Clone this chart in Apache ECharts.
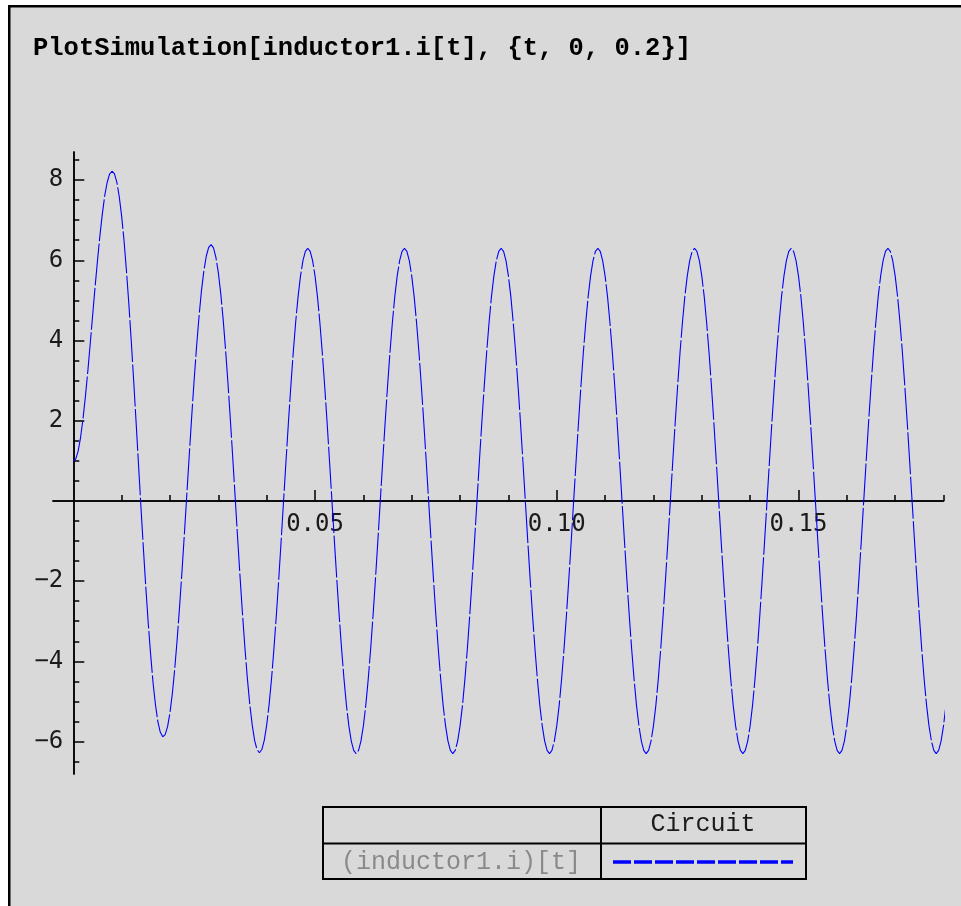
<!DOCTYPE html>
<html>
<head>
<meta charset="utf-8">
<title>PlotSimulation inductor1.i</title>
<script src="https://cdn.jsdelivr.net/npm/echarts@6/dist/echarts.min.js"></script>
<style>
  html, body { margin: 0; padding: 0; background: #ffffff; }
  #chart { width: 961px; height: 906px; }
</style>
</head>
<body>
<div id="chart"></div>
<script>
// Inductor current i(t) sampled every 0.5 ms from t = 0
const T_STEP = 0.0005;
const current = [
  1.00, 1.04, 1.24, 1.58, 2.04, 2.60, 3.23, 3.92, 4.63, 5.33,
  5.99, 6.61, 7.15, 7.61, 7.94, 8.15, 8.22, 8.16, 7.95, 7.59,
  7.10, 6.48, 5.73, 4.89, 3.96, 2.97, 1.94, 0.88, -0.17, -1.19,
  -2.16, -3.05, -3.84, -4.54, -5.09, -5.51, -5.77, -5.88, -5.83, -5.63,
  -5.28, -4.79, -4.16, -3.43, -2.61, -1.72, -0.78, 0.20, 1.17, 2.12,
  3.02, 3.85, 4.59, 5.23, 5.73, 6.10, 6.32, 6.39, 6.31, 6.07,
  5.69, 5.17, 4.52, 3.76, 2.92, 2.00, 1.04, 0.05, -0.95, -1.91,
  -2.82, -3.67, -4.42, -5.07, -5.58, -5.97, -6.20, -6.28, -6.20, -5.97,
  -5.59, -5.08, -4.44, -3.69, -2.85, -1.94, -0.98, 0.01, 1.00, 1.96,
  2.87, 3.71, 4.46, 5.10, 5.61, 5.99, 6.22, 6.30, 6.22, 5.99,
  5.61, 5.10, 4.45, 3.70, 2.86, 1.95, 0.99, 0.00, -0.99, -1.95,
  -2.86, -3.70, -4.45, -5.10, -5.61, -5.99, -6.22, -6.30, -6.22, -5.99,
  -5.61, -5.10, -4.45, -3.70, -2.86, -1.95, -0.99, 0.00, 0.99, 1.95,
  2.86, 3.70, 4.45, 5.10, 5.61, 5.99, 6.22, 6.30, 6.22, 5.99,
  5.61, 5.10, 4.45, 3.70, 2.86, 1.95, 0.99, 0.00, -0.99, -1.95,
  -2.86, -3.70, -4.45, -5.10, -5.61, -5.99, -6.22, -6.30, -6.22, -5.99,
  -5.61, -5.10, -4.45, -3.70, -2.86, -1.95, -0.99, 0.00, 0.99, 1.95,
  2.86, 3.70, 4.45, 5.10, 5.61, 5.99, 6.22, 6.30, 6.22, 5.99,
  5.61, 5.10, 4.45, 3.70, 2.86, 1.95, 0.99, 0.00, -0.99, -1.95,
  -2.86, -3.70, -4.45, -5.10, -5.61, -5.99, -6.22, -6.30, -6.22, -5.99,
  -5.61, -5.10, -4.45, -3.70, -2.86, -1.95, -0.99, 0.00, 0.99, 1.95,
  2.86, 3.70, 4.45, 5.10, 5.61, 5.99, 6.22, 6.30, 6.22, 5.99,
  5.61, 5.10, 4.45, 3.70, 2.86, 1.95, 0.99, 0.00, -0.99, -1.95,
  -2.86, -3.70, -4.45, -5.10, -5.61, -5.99, -6.22, -6.30, -6.22, -5.99,
  -5.61, -5.10, -4.45, -3.70, -2.86, -1.95, -0.99, 0.00, 0.99, 1.95,
  2.86, 3.70, 4.45, 5.10, 5.61, 5.99, 6.22, 6.30, 6.22, 5.99,
  5.61, 5.10, 4.45, 3.70, 2.86, 1.95, 0.99, 0.00, -0.99, -1.95,
  -2.86, -3.70, -4.45, -5.10, -5.61, -5.99, -6.22, -6.30, -6.22, -5.99,
  -5.61, -5.10, -4.45, -3.70, -2.86, -1.95, -0.99, 0.00, 0.99, 1.95,
  2.86, 3.70, 4.45, 5.10, 5.61, 5.99, 6.22, 6.30, 6.22, 5.99,
  5.61, 5.10, 4.45, 3.70, 2.86, 1.95, 0.99, 0.00, -0.99, -1.95,
  -2.86, -3.70, -4.45, -5.10, -5.61, -5.99, -6.22, -6.30, -6.22, -5.99,
  -5.61, -5.10, -4.45, -3.70, -2.86, -1.95, -0.99, 0.00, 0.99, 1.95,
  2.86, 3.70, 4.45, 5.10, 5.61, 5.99, 6.22, 6.30, 6.22, 5.99,
  5.61, 5.10, 4.45, 3.70, 2.86, 1.95, 0.99, 0.00, -0.99, -1.95,
  -2.86, -3.70, -4.45, -5.10, -5.61, -5.99, -6.22, -6.30, -6.22, -5.99,
  -5.61, -5.10
];

// Axis ranges and tick positions
const X_MIN = -0.0042, X_MAX = 0.18;
const Y_MIN = -6.81, Y_MAX = 8.70;
const xMajorTicks = [0.05, 0.10, 0.15];
const xMinorTicks = [0.01, 0.02, 0.03, 0.04, 0.05, 0.06, 0.07, 0.08, 0.09,
                     0.10, 0.11, 0.12, 0.13, 0.14, 0.15, 0.16, 0.17, 0.18];
const yMajorTicks = [-6, -4, -2, 2, 4, 6, 8];
const yMinorTicks = [-6.5, -6, -5.5, -5, -4.5, -4, -3.5, -3, -2.5, -2, -1.5, -1, -0.5,
                     0.5, 1, 1.5, 2, 2.5, 3, 3.5, 4, 4.5, 5, 5.5, 6, 6.5, 7, 7.5, 8, 8.5];

// Text
const titleText = 'PlotSimulation[inductor1.i[t], {t, 0, 0.2}]';
const legendHeader = 'Circuit';
const legendRowLabel = '(inductor1.i)[t]';

const points = current.map((v, k) => [k * T_STEP, v]);

// Plot area box (pixels)
const GRID = { left: 53, right: 17.5, top: 152, bottom: 132 };
const W = 961, H = 906;
const gridW = W - GRID.left - GRID.right;
const gridH = H - GRID.top - GRID.bottom;
// Distance from the grid edges to the zero lines, used to carry the
// labelled axes over to the crossing point of the axes.
const zeroFromBottom = gridH * (0 - Y_MIN) / (Y_MAX - Y_MIN);
const zeroFromLeft = gridW * (0 - X_MIN) / (X_MAX - X_MIN);

const axisColor = '#000000';
const tickFont = { fontFamily: 'DejaVu Sans Mono', fontSize: 24, color: '#1a1a1a' };
const tickLine = { color: axisColor, width: 1.5 };

const chart = echarts.init(document.getElementById('chart'), null, { renderer: 'canvas' });

chart.setOption({
  animation: false,
  backgroundColor: '#ffffff',
  grid: Object.assign({ containLabel: false, outerBoundsMode: 'none' }, GRID),
  xAxis: [
    {
      // minor ticks + labels, moved up onto y = 0
      type: 'value', min: X_MIN, max: X_MAX, position: 'bottom',
      offset: -zeroFromBottom,
      axisLine: { onZero: false, lineStyle: tickLine },
      axisTick: { show: true, inside: true, length: 6, customValues: xMinorTicks, lineStyle: tickLine },
      axisLabel: Object.assign({ customValues: xMajorTicks, margin: 12,
                  formatter: v => v.toFixed(2) }, tickFont),
      splitLine: { show: false }
    },
    {
      // major ticks
      type: 'value', min: X_MIN, max: X_MAX, position: 'top',
      axisLine: { onZero: true, onZeroAxisIndex: 0, lineStyle: tickLine },
      axisTick: { show: true, inside: false, length: 11, customValues: xMajorTicks, lineStyle: tickLine },
      axisLabel: { show: false },
      splitLine: { show: false }
    }
  ],
  yAxis: [
    {
      // major ticks + labels, moved right onto t = 0
      type: 'value', min: Y_MIN, max: Y_MAX, position: 'left',
      offset: -zeroFromLeft,
      axisLine: { onZero: false, lineStyle: tickLine },
      axisTick: { show: true, inside: true, length: 11, customValues: yMajorTicks, lineStyle: tickLine },
      axisLabel: Object.assign({ customValues: yMajorTicks, margin: 10,
                  formatter: v => (v < 0 ? '\u2212' + Math.abs(v) : String(v)) }, tickFont),
      splitLine: { show: false }
    },
    {
      // minor ticks
      type: 'value', min: Y_MIN, max: Y_MAX, position: 'right',
      axisLine: { onZero: true, onZeroAxisIndex: 0, lineStyle: tickLine },
      axisTick: { show: true, inside: false, length: 6, customValues: yMinorTicks, lineStyle: tickLine },
      axisLabel: { show: false },
      splitLine: { show: false }
    }
  ],
  series: [
    {
      name: legendRowLabel,
      type: 'line',
      xAxisIndex: 0,
      yAxisIndex: 0,
      data: points,
      showSymbol: false,
      clip: false,
      smooth: false,
      lineStyle: { color: '#0000ff', width: 1.1, type: [42, 2.5] },
      z: 3
    }
  ],
  graphic: [
    // frame
    {
      type: 'rect', z: -10, silent: true,
      shape: { x: 9.25, y: 6.25, width: 960, height: 910 },
      style: { fill: '#d9d9d9', stroke: '#000000', lineWidth: 2.5 }
    },
    // title
    {
      type: 'text', left: 33, top: 36, z: 10,
      style: { text: titleText, fill: '#000000',
               font: 'bold 25.5px "Liberation Mono", monospace' }
    },
    // legend table
    {
      type: 'rect', z: 10, silent: true,
      shape: { x: 323, y: 807, width: 483, height: 72 },
      style: { fill: 'none', stroke: '#000000', lineWidth: 2 }
    },
    {
      type: 'line', z: 10, silent: true,
      shape: { x1: 601, y1: 807, x2: 601, y2: 879 },
      style: { stroke: '#000000', lineWidth: 2 }
    },
    {
      type: 'line', z: 10, silent: true,
      shape: { x1: 323, y1: 843.5, x2: 806, y2: 843.5 },
      style: { stroke: '#000000', lineWidth: 2 }
    },
    {
      type: 'text', z: 10, x: 703, y: 824,
      style: { text: legendHeader, fill: '#1a1a1a', align: 'center', verticalAlign: 'middle',
               font: '25px "Liberation Mono", monospace' }
    },
    {
      type: 'text', z: 10, x: 461, y: 862,
      style: { text: legendRowLabel, fill: '#8a8a8a', align: 'center', verticalAlign: 'middle',
               font: '25px "Liberation Mono", monospace' }
    },
    {
      type: 'line', z: 10, silent: true,
      shape: { x1: 613, y1: 862, x2: 793, y2: 862 },
      style: { stroke: '#0000ff', lineWidth: 3.5, lineDash: [18, 3] }
    }
  ]
});
</script>
</body>
</html>
